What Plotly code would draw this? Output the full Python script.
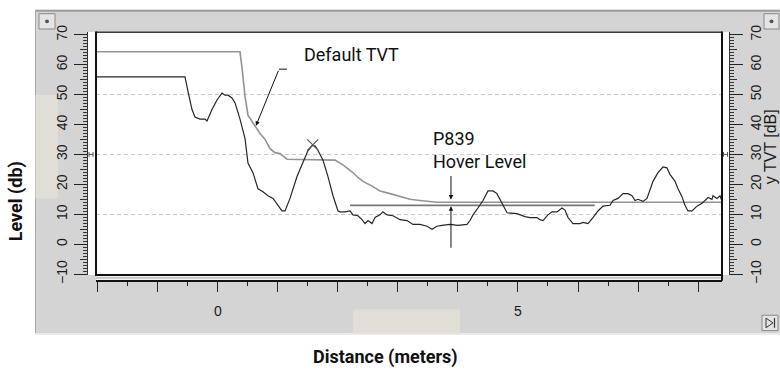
import plotly.graph_objects as go

W, H = 780, 375


def px(x):
    return x / W


def py(y):
    return 1 - y / H


# ---- data -------------------------------------------------------------
echo_dist = [-2.05, -0.55, -0.5, -0.433, -0.383, -0.3, -0.217, -0.183, -0.1, -0.017,
             0.067, 0.117, 0.167, 0.233, 0.283, 0.367, 0.45, 0.5, 0.583, 0.667,
             0.75, 0.833, 0.917, 1.0, 1.067, 1.117, 1.2, 1.317, 1.417, 1.5,
             1.567, 1.617, 1.667, 1.75, 1.833, 1.917, 2.0, 2.033, 2.117, 2.2,
             2.25, 2.333, 2.4, 2.45, 2.5, 2.567, 2.617, 2.7, 2.75, 2.817,
             2.917, 3.033, 3.15, 3.25, 3.367, 3.483, 3.567, 3.65, 3.733, 3.867,
             4.0, 4.15, 4.2, 4.25, 4.333, 4.417, 4.5, 4.583, 4.65, 4.733,
             4.817, 4.983, 5.117, 5.2, 5.317, 5.367, 5.417, 5.5, 5.567, 5.65,
             5.733, 5.783, 5.833, 5.917, 6.033, 6.083, 6.167, 6.25, 6.333, 6.417,
             6.533, 6.583, 6.667, 6.75, 6.833, 6.9, 6.95, 7.0, 7.083, 7.15,
             7.2, 7.25, 7.333, 7.417, 7.483, 7.533, 7.617, 7.667, 7.733, 7.783,
             7.833, 7.9, 7.983, 8.067, 8.117, 8.167, 8.233, 8.25, 8.317, 8.367,
             8.4]
echo_level = [55.9, 55.9, 51.1, 45.0, 42.5, 41.8, 41.8, 41.2, 45.0, 48.2,
              50.5, 49.8, 49.8, 48.9, 47.3, 41.8, 35.4, 27.1, 23.9, 18.5,
              17.5, 16.2, 15.3, 13.0, 11.1, 11.1, 15.3, 22.6, 27.1, 31.3,
              32.9, 32.9, 31.3, 28.1, 22.6, 16.2, 11.1, 10.8, 10.8, 11.1,
              9.8, 9.5, 8.2, 6.9, 7.9, 6.9, 8.9, 9.8, 10.8, 9.8,
              9.5, 8.2, 7.9, 6.6, 6.6, 6.0, 5.0, 6.0, 6.3, 6.6,
              6.3, 6.6, 7.9, 9.8, 12.1, 14.6, 17.8, 17.8, 16.9, 13.7,
              10.5, 10.2, 9.2, 8.9, 8.9, 8.2, 7.9, 9.8, 10.8, 10.8,
              12.1, 11.4, 8.9, 6.9, 6.9, 7.3, 6.9, 8.9, 11.1, 12.7,
              13.0, 14.6, 15.3, 16.9, 16.9, 16.2, 14.6, 15.0, 14.3, 15.3,
              18.5, 21.0, 23.9, 25.8, 25.5, 23.3, 21.0, 18.5, 15.9, 13.0,
              11.1, 11.1, 12.7, 13.7, 14.6, 15.6, 15.0, 16.2, 15.3, 16.2,
              14.3]

tvt_dist = [-2.05, 0.367, 0.4, 0.45, 0.5, 0.567, 0.617, 0.7, 0.783, 0.867,
            0.95, 1.033, 1.15, 1.95, 2.083, 2.233, 2.333, 2.417, 2.567, 2.7,
            2.867, 3.033, 3.2, 3.367, 3.533, 3.65, 8.45]
tvt_level = [64.3, 64.3, 59.1, 49.5, 43.1, 40.9, 39.3, 37.0, 35.1, 31.9,
             30.6, 30.3, 28.4, 28.1, 26.5, 24.2, 22.3, 21.0, 19.4, 17.8,
             16.9, 15.9, 15.0, 14.6, 14.3, 14.0, 14.0]

hover_dist = [2.2, 6.28]
hover_level = [13.0, 13.0]

peak_dist = [1.58]
peak_level = [33.2]

y_ticks = list(range(-10, 71, 10))
y_mid_ticks = list(range(-5, 70, 10))
grid_levels = [10, 30, 50]
x_tickvals = list(range(-2, 9))
x_ticktext = [str(v) if v in (0, 5) else "" for v in x_tickvals]

Y_RANGE = [-10.32, 70.96]
X_RANGE = [-2.033, 8.4]

TICK_FONT = dict(family="Liberation Sans, Arial, sans-serif", size=14, color="#1a1a1a")
NARROW = "Roboto, Liberation Sans, sans-serif"

fig = go.Figure()

fig.add_trace(go.Scatter(x=tvt_dist, y=tvt_level, mode="lines",
                         line=dict(color="#939393", width=1.6), hoverinfo="skip"))
fig.add_trace(go.Scatter(x=hover_dist, y=hover_level, mode="lines",
                         line=dict(color="#777777", width=1.8), hoverinfo="skip"))
fig.add_trace(go.Scatter(x=echo_dist, y=echo_level, mode="lines",
                         line=dict(color="#262626", width=1.2), hoverinfo="skip"))
fig.add_trace(go.Scatter(x=peak_dist, y=peak_level, mode="markers",
                         marker=dict(symbol="x-thin", size=11,
                                     line=dict(color="#555555", width=1.2)),
                         hoverinfo="skip"))

# placeholders so the overlay axes get drawn
for ax in ["y2", "y3", "y4", "y5"]:
    fig.add_trace(go.Scatter(x=[], y=[], yaxis=ax, showlegend=False, hoverinfo="skip"))

dom_x = [px(96), px(722)]
dom_y = [py(280), py(26)]

fig.update_layout(
    width=W, height=H,
    margin=dict(l=0, r=0, t=0, b=0),
    paper_bgcolor="white",
    plot_bgcolor="white",
    showlegend=False,
    xaxis=dict(domain=dom_x, range=X_RANGE, anchor="free", position=py(286),
               tickmode="array", tickvals=x_tickvals, ticktext=x_ticktext,
               ticks="outside", ticklen=10, tickwidth=1, tickcolor="#222",
               minor=dict(dtick=0.5, tick0=0, ticks="outside", ticklen=4,
                          tickcolor="#222", tickwidth=1, showgrid=False),
               showgrid=False, zeroline=False, showline=True,
               linecolor="#111", linewidth=1.5, tickfont=TICK_FONT,
               ticklabelstandoff=8),
    yaxis=dict(domain=dom_y, range=Y_RANGE, anchor="free", position=px(87),
               tickvals=y_ticks, tickmode="array", tickangle=-90,
               ticks="outside", ticklen=13, tickwidth=1, tickcolor="#222",
               minor=dict(dtick=1, tick0=0, ticks="outside", ticklen=4,
                          tickcolor="#333", tickwidth=1, showgrid=False),
               showgrid=False, zeroline=False, showline=True,
               linecolor="#333", linewidth=1, tickfont=TICK_FONT,
               ticklabelstandoff=1),
    yaxis2=dict(domain=dom_y, range=Y_RANGE, anchor="free", position=px(729),
                overlaying="y", side="right",
                tickvals=y_ticks, tickmode="array", tickangle=-90,
                ticks="outside", ticklen=13, tickwidth=1, tickcolor="#222",
                minor=dict(dtick=1, tick0=0, ticks="outside", ticklen=4,
                           tickcolor="#333", tickwidth=1, showgrid=False),
                showgrid=False, zeroline=False, showline=True,
                linecolor="#333", linewidth=1, tickfont=TICK_FONT,
                ticklabelstandoff=1),
    yaxis3=dict(domain=dom_y, range=Y_RANGE, anchor="free", position=px(87),
                overlaying="y", side="left", tickmode="array", tickvals=y_mid_ticks,
                ticks="outside", ticklen=7, tickcolor="#333", tickwidth=1,
                showticklabels=False, showgrid=False, zeroline=False, showline=False),
    yaxis4=dict(domain=dom_y, range=Y_RANGE, anchor="free", position=px(729),
                overlaying="y", side="right", tickmode="array", tickvals=y_mid_ticks,
                ticks="outside", ticklen=7, tickcolor="#333", tickwidth=1,
                showticklabels=False, showgrid=False, zeroline=False, showline=False),
    yaxis5=dict(domain=dom_y, range=Y_RANGE, anchor="x", overlaying="y",
                tickmode="array", tickvals=grid_levels, ticks="",
                showticklabels=False, showgrid=True, gridcolor="#c9c9c9",
                gridwidth=1, griddash="4px,3px", zeroline=False, showline=False),
)

shapes = []


def prect(x0, y0, x1, y1, fill, line=None, lw=0, layer="below"):
    shapes.append(dict(type="rect", xref="paper", yref="paper",
                       x0=px(x0), x1=px(x1), y0=py(y0), y1=py(y1),
                       fillcolor=fill, line=dict(color=line or fill, width=lw),
                       layer=layer))


def pline(x0, y0, x1, y1, color, lw, layer="above"):
    shapes.append(dict(type="line", xref="paper", yref="paper",
                       x0=px(x0), x1=px(x1), y0=py(y0), y1=py(y1),
                       line=dict(color=color, width=lw), layer=layer))


# window panel
prect(35, 3, 781, 342, "#d4d4d4")
pline(35, 4, 781, 4, "#9c9c9c", 2, layer="below")
pline(35.5, 4, 35.5, 342, "#a8a8a8", 1, layer="below")
pline(35, 341.5, 781, 341.5, "#ebebeb", 2, layer="below")
prect(35.5, 92, 58, 200, "#e1ded7")
prect(353, 316, 460, 341, "#e1ded7")

# plot area and ruler strips
prect(96, 26, 722, 280, "white")
prect(87, 26, 96, 280, "#fbfbfb")
prect(722, 26, 729, 280, "#fbfbfb")
prect(96, 280, 722, 286, "#f2f2f2")
pline(96, 283, 722, 283, "#a0a0a0", 1)

# frame of the plot area
pline(96, 26.5, 722, 26.5, "#3a3a3a", 1.5)
pline(96, 25.5, 96, 281, "#111111", 2)
pline(722, 25.5, 722, 286, "#111111", 2)
pline(95, 280, 723, 280, "#111111", 2)

# cursor brackets on the rulers at 30 dB
for bx in (89, 723.5):
    pline(bx, 151.5, bx, 156.5, "#555", 1)
    pline(bx + 4, 151.5, bx + 4, 156.5, "#555", 1)
    pline(bx, 154, bx + 4, 154, "#555", 1)

# window buttons
prect(39, 7, 55, 23, "#e4e4e4", "#8a8a8a", 1, layer="above")
prect(764, 7, 779, 23, "#e4e4e4", "#8a8a8a", 1, layer="above")
for cx in (47, 771.5):
    shapes.append(dict(type="circle", xref="paper", yref="paper",
                       x0=px(cx - 2), x1=px(cx + 2), y0=py(17), y1=py(13),
                       fillcolor="#555555", line=dict(width=0), layer="above"))
prect(762, 322, 778, 338, "#e4e4e4", "#8a8a8a", 1, layer="above")
shapes.append(dict(type="path", xref="paper", yref="paper",
                   path=f"M {px(766)},{py(325)} L {px(773)},{py(330)} L {px(766)},{py(335)} Z",
                   line=dict(color="#333", width=1), fillcolor="rgba(0,0,0,0)", layer="above"))
pline(774.5, 325, 774.5, 335, "#333", 1.2)

# leader of the "Default TVT" callout (horizontal part)
shapes.append(dict(type="line", xref="x", yref="y", x0=1.15, x1=1.017, y0=58.5, y1=58.5,
                   line=dict(color="#111", width=1), layer="above"))

fig.update_layout(shapes=shapes)

ann = []
ann.append(dict(x=0.633, y=39.6, ax=1.017, ay=58.5, xref="x", yref="y",
                axref="x", ayref="y", text="", showarrow=True, arrowhead=2,
                arrowsize=0.9, arrowwidth=1, arrowcolor="#111"))
ann.append(dict(x=1.4, y=63.3, xref="x", yref="y", text="Default TVT",
                showarrow=False, xanchor="left", yanchor="middle",
                font=dict(family=NARROW, size=18, color="#111")))
ann.append(dict(x=3.55, y=39.5, xref="x", yref="y", text="P839<br>Hover Level",
                showarrow=False, xanchor="left", yanchor="top", align="left",
                font=dict(family=NARROW, size=18, color="#111")))
ann.append(dict(x=3.883, y=14.9, ax=3.883, ay=23.3, xref="x", yref="y",
                axref="x", ayref="y", text="", showarrow=True, arrowhead=2,
                arrowsize=0.9, arrowwidth=1, arrowcolor="#111"))
ann.append(dict(x=3.883, y=12.7, ax=3.883, ay=-1.7, xref="x", yref="y",
                axref="x", ayref="y", text="", showarrow=True, arrowhead=2,
                arrowsize=0.9, arrowwidth=1, arrowcolor="#111"))

# axis titles
ann.append(dict(x=px(16), y=py(203), xref="paper", yref="paper",
                xanchor="center", yanchor="middle",
                text="<b>Level (db)</b>", textangle=-90, showarrow=False,
                font=dict(family=NARROW, size=18, color="#111")))
ann.append(dict(x=px(385), y=py(366), xref="paper", yref="paper",
                xanchor="center", yanchor="middle",
                text="<b>Distance (meters)</b>", showarrow=False,
                font=dict(family=NARROW, size=18, color="#111")))
ann.append(dict(x=px(770.5), y=py(146), xref="paper", yref="paper",
                xanchor="center", yanchor="middle",
                text="y TVT [dB]", textangle=-90, showarrow=False,
                font=dict(family="Liberation Sans, Arial, sans-serif", size=16, color="#1a1a1a")))

fig.update_layout(annotations=ann)

fig.write_html("out.html")
